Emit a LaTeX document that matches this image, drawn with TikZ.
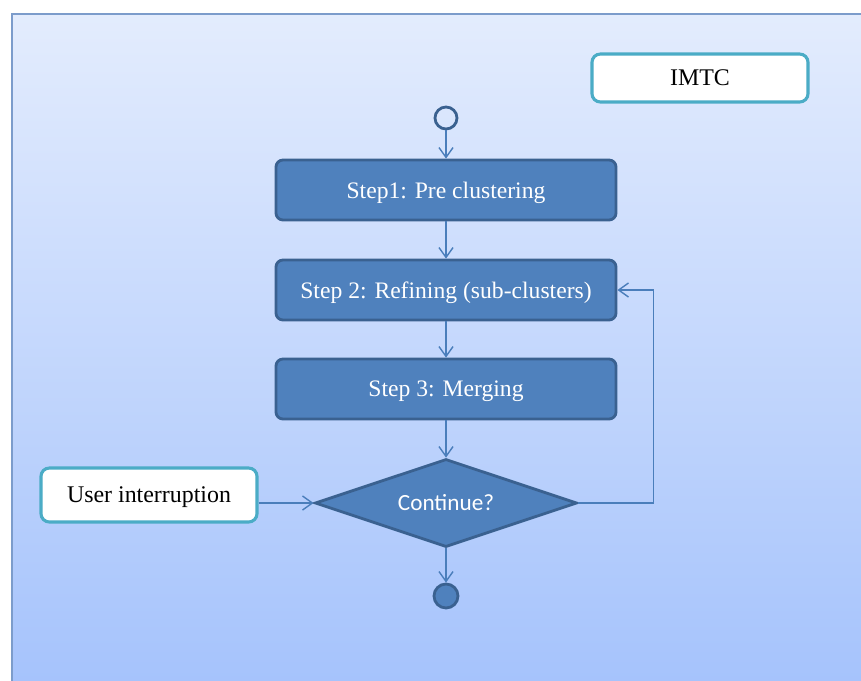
\documentclass[tikz,border=0pt]{standalone}
\usepackage{fontspec}
\setmainfont{Liberation Serif}
\newfontfamily\calibrifont{Carlito}
\usetikzlibrary{shapes.geometric, arrows.meta, positioning}

\definecolor{stepfill}{HTML}{4F81BD}
\definecolor{stepedge}{HTML}{3A6190}
\definecolor{linkblue}{HTML}{4A7EBB}
\definecolor{noteedge}{HTML}{4BACC6}
\definecolor{panelTop}{HTML}{E3ECFD}
\definecolor{panelBot}{HTML}{A4C2FC}
\definecolor{panelEdge}{HTML}{7C9CCB}

\tikzset{
  stepbox/.style={rectangle, rounded corners=5pt, draw=stepedge, line width=2pt,
    fill=stepfill, text=white, minimum width=8.5cm, minimum height=1.5cm,
    text depth=0pt, font=\fontsize{16.8}{19}\selectfont},
  notebox/.style={rectangle, rounded corners=6pt, draw=noteedge, line width=2.2pt,
    fill=white, minimum width=5.4cm, text depth=0pt, font=\fontsize{17}{19}\selectfont},
  choice/.style={diamond, aspect=2.9, draw=stepedge, line width=2pt, fill=stepfill, text=white,
    inner sep=0pt, minimum width=6.55cm, minimum height=2.2cm,
    font=\calibrifont\fontsize{16.5}{19}\selectfont},
  flow/.style={draw=linkblue, line width=1pt, -{Straight Barb[length=7pt,width=10pt]}},
}

\begin{document}
\begin{tikzpicture}[x=0.025cm, y=-0.025cm]
\useasboundingbox (0,0) rectangle (861,680);

% Shaded panel behind the flow
\shade[top color=panelTop, bottom color=panelBot, draw=panelEdge, line width=1.4pt]
  (12,14) rectangle (880,700);

% Title box
\node[notebox, minimum height=1.2cm] (imtc) at (700,78) {IMTC};

% Start and end points
\node[circle, draw=stepedge, line width=2pt, minimum size=0.55cm, inner sep=0pt] (start) at (446,118) {};
\node[circle, draw=stepedge, line width=2pt, fill=stepfill, minimum size=0.6cm, inner sep=0pt] (stop) at (446,596) {};

% The three steps
\node[stepbox] (pre) at (446,190) {Step1: Pre clustering};
\node[stepbox] (refine) at (446,290) {Step 2: Refining (sub-clusters)};
\node[stepbox] (merge) at (446,389) {Step 3: Merging};

% Decision
\node[choice] (cont) at (446,503) {Continue?};

% Outside input
\node[notebox, minimum height=1.35cm] (user) at (149,495) {User interruption};

% Connectors
\draw[flow] (start) -- (pre);
\draw[flow] (pre) -- (refine);
\draw[flow] (refine) -- (merge);
\draw[flow] (merge) -- (cont);
\draw[flow] (cont) -- (stop);
\draw[flow] (user.east |- cont.west) -- (cont.west);
\draw[flow] (cont.east) -- ++(75,0) |- (refine.east);

\end{tikzpicture}
\end{document}
